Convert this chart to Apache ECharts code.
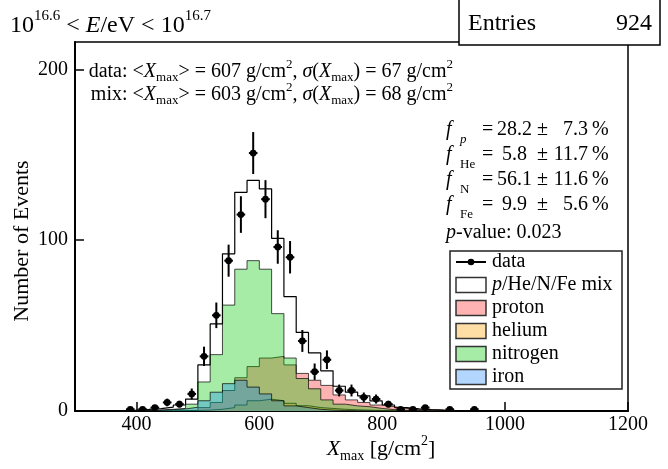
<!DOCTYPE html>
<html><head><meta charset="utf-8">
<script src="https://cdn.jsdelivr.net/npm/echarts@6/dist/echarts.min.js"></script>
<style>html,body{margin:0;padding:0;background:#fff}#c{width:668px;height:469px}</style>
</head><body><div id="c"></div>
<script>
// ---- data ----
const binLowEdges = [340,360,380,400,420,440,460,480,500,520,540,560,580,600,620,640,660,680,700,720,740,760,780,800,820,840,860,880,900,920,940,960,980];
const binWidth = 20;
const mixCounts      = [0.2,0.3,0.5,0.9,1.4,2.3,3.5,7,27,51,92,128,135,130,101,67,46,34,23.5,14.5,11,8.8,5.9,3.5,2,1.2,0.8,0.5,0.3,0.3,0.2,0.1,0.1];
const protonCounts   = [0,0,0,0,0,0.1,0.2,0.4,2,5,12,19.5,26,31,32,27,22,18,15,9.4,6.5,5,3.5,2.5,1.5,1,0.7,0.5,0.3,0.2,0.1,0.1,0];
const heliumCounts   = [0,0,0,0,0,0.1,0.2,0.3,0.5,1,2,3.5,6,6.9,6,4.5,3.1,2,1.5,1,0.7,0.5,0.3,0.2,0.1,0,0,0,0,0,0,0,0];
const nitrogenCounts = [0,0,0.1,0.3,0.6,1,1.5,4,17,33,62,83,88,83,57,31,19,13,6.5,4,3,2.5,1.5,0.8,0.4,0.2,0.1,0,0,0,0,0,0];
const ironCounts     = [0,0,0,0.2,0.4,0.8,1.2,2.2,6,11,16,18,14,10,6,3,2,1,0.5,0.3,0.2,0.1,0,0,0,0,0,0,0,0,0,0,0];
const dataX      = [390,410,430,450,470,490,510,530,550,570,590,610,630,650,670,690,710,730,750,770,790,810,830,850,870,910,950];
const dataCounts = [1,1,2,5,4,10,32,56,88,115,151,124,96,90,41,23,30,12,12,8,7,4,1,1,2,1,1];
const xTicks = [400,600,800,1000,1200];
const yTicks = [0,100,200];
const fracRows = [
  {sub:'p', subItalic:true, val:'28.2', err:'7.3'},
  {sub:'He', subItalic:false, val:'5.8', err:'11.7'},
  {sub:'N', subItalic:false, val:'56.1', err:'11.6'},
  {sub:'Fe', subItalic:false, val:'9.9', err:'5.6'}
];
const legendLabels = ['data','/He/N/Fe mix','proton','helium','nitrogen','iron'];

// ---- helpers ----
const FAM = '"Liberation Serif","Times New Roman",serif';
const mctx = document.createElement('canvas').getContext('2d');
function fnt(size, italic){ return (italic?'italic ':'') + size + 'px ' + FAM; }
function tw(t, size, italic){ mctx.font = fnt(size, italic); return mctx.measureText(t).width; }
function txt(t, x, y, size, italic, align, extra){
  return Object.assign({type:'text', z:100, style:{text:t, x:x, y:y, font:fnt(size,italic), fill:'#000',
    textAlign:align||'left', textVerticalAlign:'middle', verticalAlign:'middle'}}, extra||{});
}
function richRun(parts, x, y, align){
  const total = parts.reduce((s,p)=> s + tw(p[0],p[1],p[2]), 0);
  let cx = align==='right' ? x-total : (align==='center' ? x-total/2 : x);
  const els = [];
  parts.forEach(p => { els.push(txt(p[0], cx, y+(p[3]||0), p[1], p[2])); cx += tw(p[0],p[1],p[2]); });
  return els;
}
function stepData(counts){
  const d = [[binLowEdges[0], 0]];
  for (let i=0;i<counts.length;i++) d.push([binLowEdges[i], counts[i]]);
  const hi = binLowEdges[binLowEdges.length-1] + binWidth;
  d.push([hi, counts[counts.length-1]]);
  d.push([hi, 0]);
  return d;
}
function histSeries(name, counts, fill, opacity, lineColor, lineWidth, z){
  return {type:'line', name:name, step:'end', symbol:'none', z:z, data:stepData(counts),
    lineStyle:{color:lineColor, width:lineWidth}, itemStyle:{color:lineColor},
    areaStyle:{color:fill, opacity:opacity}, animation:false, silent:true};
}

// ---- graphics ----
const G = [];
// title
G.push(...richRun([['10',24],['16.6',15,false,-10],[' < ',24],['E',24,true],['/eV < 10',24],['16.7',15,false,-10]], 10, 26, 'left'));
// entries box
G.push({type:'rect', z:90, shape:{x:459, y:-1, width:201, height:46}, style:{fill:'#fff', stroke:'#000', lineWidth:1.5}});
G.push(txt('Entries', 468, 24, 24, false, 'left'));
G.push(txt('924', 652, 24, 24, false, 'right'));
// stats lines
function statLine(lbl, mean, sig, y){
  return richRun([[lbl+' <',20],['X',20,true],['max',13,false,6],['> = '+mean+' g/cm',20],['2',13,false,-7],[', ',20],
    ['\u03c3',20,true],['(',20],['X',20,true],['max',13,false,6],[') = '+sig+' g/cm',20],['2',13,false,-7]], 453, y, 'right');
}
G.push(...statLine('data:', '607', '67', 72));
G.push(...statLine('mix:', '603', '68', 95));
// fractions
fracRows.forEach((r, i) => {
  const y = 130 + i*25;
  G.push(txt('f', 446, y, 20, true, 'left'));
  G.push(txt(r.sub, 460, y+10, 13, r.subItalic, 'left'));
  G.push(txt('=', 482, y, 20, false, 'left'));
  G.push(txt(r.val, r.val.length>3 ? 497 : 502, y, 20, false, 'left'));
  G.push(txt('\u00b1', 537, y, 20, false, 'left'));
  G.push(txt(r.err, 588, y, 20, false, 'right'));
  G.push(txt('%', 592, y, 20, false, 'left'));
});
G.push(...richRun([['p',20,true],['-value: 0.023',20]], 446, 233, 'left'));
// legend
G.push({type:'rect', z:95, shape:{x:450, y:251, width:172, height:138}, style:{fill:'#fff', stroke:'#222', lineWidth:1.5}});
const swatchFill = [null, '#ffffff', '#ffb3b3', '#ffdea6', '#a6eca6', '#b3d6ff'];
legendLabels.forEach((lab, i) => {
  const y = 262 + i*23;
  if (i === 0) {
    G.push({type:'line', z:100, shape:{x1:456, y1:y, x2:486, y2:y}, style:{stroke:'#000', lineWidth:2}});
    G.push({type:'circle', z:101, shape:{cx:471, cy:y, r:3.3}, style:{fill:'#000'}});
  } else {
    G.push({type:'rect', z:100, shape:{x:456, y:y-7.5, width:30, height:15}, style:{fill:swatchFill[i], stroke:'#333', lineWidth:1.5}});
  }
  if (i === 1) G.push(...richRun([['p',20,true],[lab,20]], 492, y, 'left'));
  else G.push(txt(lab, 492, y, 20, false, 'left'));
});
// axis titles
G.push(...richRun([['X',22,true],['max',14,false,7],[' [g/cm',22],['2',14,false,-8],[']',22]], 381, 449, 'center'));
G.push({type:'text', z:100, x:22, y:241, rotation:Math.PI/2,
  style:{text:'Number of Events', x:0, y:0, font:fnt(22,false), fill:'#000', textAlign:'center', textVerticalAlign:'middle', verticalAlign:'middle'}});

// ---- chart ----
const chart = echarts.init(document.getElementById('c'), null, {renderer:'canvas'});
const axisFont = {color:'#000', fontFamily:FAM, fontSize:20};
chart.setOption({
  animation:false,
  backgroundColor:'#fff',
  grid:{left:75, right:40, top:42, bottom:58, show:true, borderColor:'#000', borderWidth:1.5, backgroundColor:'transparent'},
  xAxis:{type:'value', min:300, max:1200,
    axisLine:{show:true, onZero:false, lineStyle:{color:'#000', width:2}},
    axisTick:{show:true, inside:true, length:9, customValues:xTicks, lineStyle:{color:'#000', width:1.5}},
    axisLabel:Object.assign({margin:4, customValues:xTicks, formatter:function(v){return String(v);}}, axisFont),
    splitLine:{show:false}},
  yAxis:{type:'value', min:0, max:216,
    axisLine:{show:true, lineStyle:{color:'#000', width:2}},
    axisTick:{show:true, inside:true, length:9, customValues:yTicks, lineStyle:{color:'#000', width:1.5}},
    axisLabel:Object.assign({margin:7, customValues:yTicks, formatter:function(v){return String(v);}}, axisFont),
    splitLine:{show:false}},
  series:[
    histSeries('mix', mixCounts, '#ffffff', 1, '#000', 1.2, 1),
    histSeries('proton', protonCounts, 'rgb(255,0,0)', 0.3, 'rgba(0,0,0,0.7)', 1, 2),
    histSeries('helium', heliumCounts, 'rgb(255,160,0)', 0.35, 'rgba(0,0,0,0.7)', 1, 3),
    histSeries('nitrogen', nitrogenCounts, 'rgb(0,200,0)', 0.35, 'rgba(0,0,0,0.7)', 1, 4),
    histSeries('iron', ironCounts, 'rgb(0,120,255)', 0.3, 'rgba(0,0,0,0.7)', 1, 5),
    {type:'custom', name:'data', z:10, clip:true,
      data: dataX.map((x,i)=>[x, dataCounts[i]]),
      renderItem:function(params, api){
        const x = api.value(0), y = api.value(1), e = Math.sqrt(y), hw = binWidth*0.35;
        const c = api.coord([x,y]);
        const t = api.coord([x,y+e]), b = api.coord([x,Math.max(0,y-e)]);
        const l = api.coord([x-hw,y]), r = api.coord([x+hw,y]);
        return {type:'group', children:[
          {type:'line', shape:{x1:t[0],y1:t[1],x2:b[0],y2:b[1]}, style:{stroke:'#000', lineWidth:2}},
          {type:'line', shape:{x1:l[0],y1:l[1],x2:r[0],y2:r[1]}, style:{stroke:'#000', lineWidth:2}},
          {type:'circle', shape:{cx:c[0], cy:c[1], r:3.4}, style:{fill:'#000'}}
        ]};
      }}
  ],
  graphic: G
});
</script>
</body></html>
